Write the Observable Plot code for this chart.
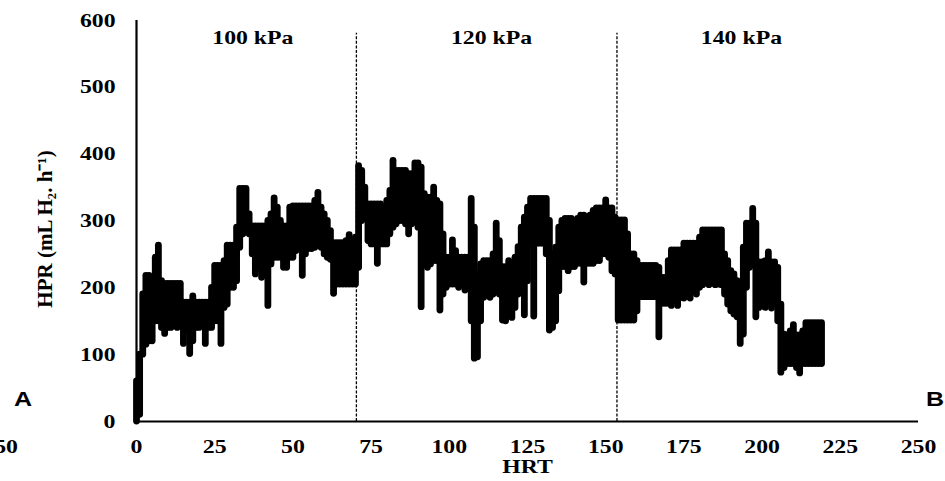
<!DOCTYPE html>
<html><head><meta charset="utf-8">
<script src="https://cdn.jsdelivr.net/npm/d3@7"></script>
<script src="https://cdn.jsdelivr.net/npm/@observablehq/plot@0.6"></script>
<style>
html,body{margin:0;padding:0;background:#fff;}
#chart{position:relative;width:945px;height:481px;overflow:hidden;}
</style></head><body><div id="chart"></div>
<script>
// HRT (h) sampling positions
const hrt = [0,1,2,3,4,5,6,7,8,9,10,11,12,13,14,15,16,17,18,19,20,21,22,23,24,25,26,27,28,29,30,31,32,33,34,35,36,37,38,39,40,41,42,43,44,45,46,47,48,49,50,51,52,53,54,55,56,57,58,59,60,61,62,63,64,65,66,67,68,69,70,71,72,73,74,75,76,77,78,79,80,81,82,83,84,85,86,87,88,89,90,91,92,93,94,95,96,97,98,99,100,101,102,103,104,105,106,107,108,109,110,111,112,113,114,115,116,117,118,119,120,121,122,123,124,125,126,127,128,129,130,131,132,133,134,135,136,137,138,139,140,141,142,143,144,145,146,147,148,149,150,151,152,153,154,155,156,157,158,159,160,161,162,163,164,165,166,167,168,169,170,171,172,173,174,175,176,177,178,179,180,181,182,183,184,185,186,187,188,189,190,191,192,193,194,195,196,197,198,199,200,201,202,203,204,205,206,207,208,209,210,211,212,213,214,215,216,217,218,219];
// lowest HPR reading around each HRT
const hprLow = [0,10,100,115,120,120,150,150,140,131,140,140,145,140,150,116,135,101,120,140,140,145,116,140,140,150,150,116,170,175,200,200,210,260,280,285,280,250,220,230,215,240,173,235,245,245,245,230,230,245,245,255,258,218,250,258,258,260,270,260,250,245,242,191,205,205,205,205,205,205,205,230,300,305,270,265,265,236,265,265,265,280,290,295,300,300,295,280,295,300,290,171,235,230,235,240,240,166,190,200,205,205,205,200,205,196,205,150,94,96,150,185,190,185,190,200,190,151,150,160,155,170,190,200,159,210,266,157,266,266,266,250,136,140,150,195,231,231,225,231,231,236,236,208,236,236,236,240,240,250,250,245,225,220,151,151,151,151,151,151,165,186,186,186,186,186,186,126,176,176,176,173,180,173,185,184,200,184,200,190,200,204,210,204,210,204,205,204,190,175,165,160,156,116,130,200,230,240,156,170,175,170,180,169,175,150,73,80,86,86,86,80,72,86,86,86,86,86,86,86];
// highest HPR reading around each HRT
const hprHigh = [60,100,190,218,218,215,245,263,210,206,206,206,206,206,206,178,178,178,187,178,178,178,178,178,200,233,233,233,240,263,263,263,290,348,348,348,310,292,292,292,292,292,300,310,334,320,300,292,292,320,322,322,322,322,322,322,322,330,342,320,310,300,285,267,267,267,267,270,279,267,275,382,375,350,325,325,325,325,325,320,330,345,390,375,375,375,375,370,370,386,386,380,340,335,335,350,330,325,280,245,245,271,255,245,245,245,245,333,290,220,235,240,240,240,250,296,270,231,231,240,231,245,261,290,305,320,333,333,333,333,333,333,300,250,260,290,300,303,303,303,300,303,308,308,305,308,315,319,319,319,331,319,319,305,301,301,301,280,250,250,240,233,233,233,233,233,233,230,215,215,240,256,256,256,256,266,266,266,266,266,275,286,286,286,286,286,286,286,250,240,225,220,210,204,260,296,296,318,296,238,238,240,253,238,238,230,175,130,129,135,144,129,129,135,147,147,147,147,147,147];

const pressureBoundaries = [70.3, 153.6];
const boundaryTop = 581;
const pressureLabels = ["100 kPa", "120 kPa", "140 kPa"];
const pressureLabelX = [37.2, 113.5, 193.4];
const pressureLabelY = 574;
const xTicks = [0, 25, 50, 75, 100, 125, 150, 175, 200, 225, 250];
const yTicks = [0, 100, 200, 300, 400, 500, 600];
const xTitle = "HRT";
const yTitle = "HPR (mL H₂. h⁻¹)";

const data = hrt.map((h, i) => ({hrt: h, lo: hprLow[i], hi: hprHigh[i]}));
const labels = pressureLabels.map((t, i) => ({t, x: pressureLabelX[i], y: pressureLabelY}));
const serif = "'Liberation Serif','Times New Roman',serif";

const chart = Plot.plot({
  width: 945, height: 481,
  marginLeft: 136, marginRight: 27, marginTop: 20, marginBottom: 60,
  style: {fontFamily: serif, fontWeight: "bold", fontSize: "19px", color: "#000", background: "#fff"},
  x: {domain: [0, 250], ticks: xTicks, tickSize: 0, tickPadding: 18, label: null},
  y: {domain: [0, 600], ticks: yTicks, tickSize: 0, tickPadding: 21, label: null},
  marks: [
    Plot.ruleX(pressureBoundaries, {y1: 0, y2: boundaryTop, stroke: "#000", strokeWidth: 1.3, strokeDasharray: "3,1.6"}),
    Plot.ruleX(data, {x: "hrt", y1: "lo", y2: "hi", stroke: "#000", strokeWidth: 6.8, strokeLinecap: "round"}),
    Plot.ruleY([0], {stroke: "#000", strokeWidth: 2.2}),
    Plot.ruleX([0], {stroke: "#000", strokeWidth: 2.2}),
    Plot.text(labels, {x: "x", y: "y", text: "t", fontSize: 19, fontWeight: "bold"}),
    Plot.text([xTitle], {frameAnchor: "bottom", dy: 51, text: d => d, fontSize: 19, fontWeight: "bold", textAnchor: "middle"}),
    Plot.text([yTitle], {frameAnchor: "left", dx: -91, dy: 8, rotate: -90, text: d => d, fontSize: 21, fontWeight: "bold", textAnchor: "middle"})
  ]
});

document.getElementById("chart").appendChild(chart);

const svg = d3.select(chart);
// neighbouring panel annotations
svg.append("text").attr("x", 23).attr("y", 406).attr("text-anchor", "middle")
  .style("font-family", "'Liberation Sans',Arial,sans-serif").style("font-weight", "bold").style("font-size", "20px").text("A");
svg.append("text").attr("x", 935).attr("y", 406).attr("text-anchor", "middle")
  .style("font-family", "'Liberation Sans',Arial,sans-serif").style("font-weight", "bold").style("font-size", "20px").text("B");
svg.append("text").attr("x", 18).attr("y", 453).attr("text-anchor", "end")
  .style("font-family", serif).style("font-weight", "bold").style("font-size", "19px").text("50");

// horizontal stretch of the (non-rotated) texts, as in the reference image
svg.selectAll("text").each(function() {
  const tr = this.getAttribute("transform") || "";
  if (tr.includes("rotate")) return;
  const len = this.getComputedTextLength();
  if (len > 0) {
    this.setAttribute("textLength", (len * 1.25).toFixed(1));
    this.setAttribute("lengthAdjust", "spacingAndGlyphs");
  }
});
</script>
</body></html>
